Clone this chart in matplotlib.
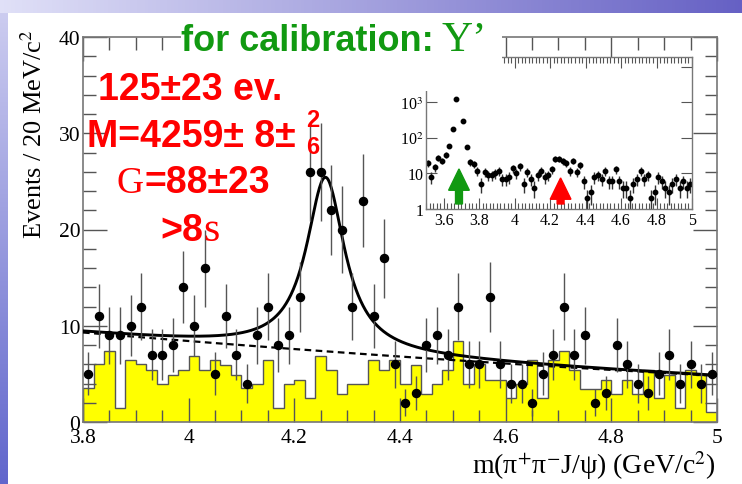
import matplotlib.pyplot as plt, numpy as np
from matplotlib.patches import Polygon, Rectangle

plt.rcParams['font.family'] = ['Liberation Serif', 'DejaVu Serif']
plt.rcParams['mathtext.fontset'] = 'stix'

W, H = 742, 485

###data: 20 MeV bins from 3.8 to 5.0 GeV
edges = np.round(np.linspace(3.80, 5.00, 61), 2)
centers = 0.5 * (edges[:-1] + edges[1:])

events = [5, 11, 9, 9, 10, 12, 7, 7, 8, 14,
          10, 16, 5, 11, 7, 4, 9, 12, 8, 9,
          13, 26, 26, 22, 20, 12, 23, 11, 17, 6,
          2, 3, 8, 9, 7, 12, 6, 6, 13, 6,
          4, 4, 2, 5, 7, 12, 7, 9, 2, 3,
          8, 6, 4, 3, 5, 7, 4, 6, 4, 5]

# scaled J/psi mass sidebands
sideband = [3.5, 6.0, 7.4, 1.5, 6.4, 6.0, 5.4, 3.9, 4.9, 5.4,
            6.9, 5.4, 6.4, 5.9, 4.9, 3.5, 3.9, 6.4, 1.5, 3.9,
            4.4, 2.5, 6.9, 5.4, 2.9, 3.9, 3.9, 6.4, 5.4, 6.4,
            3.9, 5.9, 2.9, 3.9, 5.4, 8.4, 3.9, 6.0, 4.4, 4.4,
            2.5, 3.9, 6.4, 2.5, 6.4, 7.4, 5.4, 3.4, 3.4, 4.4,
            2.9, 4.4, 2.9, 5.4, 2.5, 4.9, 1.5, 5.4, 4.9, 1.0]

# wide range spectrum below 3.8 GeV (psi(2S) peak)
low_edges = np.round(np.linspace(3.50, 3.80, 16), 2)
low_events = [20, 8, 15, 27, 23, 33, 58, 175, 1240, 10000, 300, 56, 21, 18, 12]

# fit result: BW signal + quadratic background
n_sig, m_fit, g_fit = 125, 4.259, 0.088
bg_coef = [9.3, -4.58, 0.69]
m_psi2s = 3.686

def background(x):
    t = x - 3.8
    return bg_coef[0] + bg_coef[1]*t + bg_coef[2]*t**2

def signal(x):
    hw = g_fit/2
    return n_sig*0.02/np.pi * hw/((x - m_fit)**2 + hw**2)

def px(x, y):
    return x/W, 1 - y/H

fig = plt.figure(figsize=(W/100, H/100), dpi=100)

##slide background
bg = fig.add_axes([0, 0, 1, 1])
bg.axis('off')
top = np.linspace(0, 1, 200)
c0, c1 = np.array([0.88, 0.88, 0.97]), np.array([0.40, 0.38, 0.77])
band = c0[None, None, :]*(1-top)[None, :, None] + c1[None, None, :]*top[None, :, None]
bg.imshow(band, extent=[0, W, 14, 0], aspect='auto')
side = np.linspace(0, 1, 200)
d0, d1 = np.array([0.80, 0.80, 0.94]), np.array([0.38, 0.40, 0.80])
lband = d0[None, None, :]*(1-side)[:, None, None] + d1[None, None, :]*side[:, None, None]
bg.imshow(lband, extent=[0, 8, H, 14], aspect='auto')
bg.set_xlim(0, W); bg.set_ylim(H, 0)

##main plot
ax = fig.add_axes([83/W, 62/H, 634/W, 385/H])
ax.stairs(sideband, edges, fill=True, color='#ffff00', zorder=1)
ax.stairs(sideband, edges, color='#555555', lw=1, zorder=2)
ax.errorbar(centers, events, yerr=np.sqrt(events), fmt='o', color='black',
            ms=5.8, ecolor='#555555', elinewidth=1, capsize=0, zorder=4)
xf = np.linspace(3.8, 5.0, 800)
ax.plot(xf, background(xf) + signal(xf), color='black', lw=2.1, zorder=3)
ax.plot(xf, background(xf), color='black', lw=1.6, dashes=(3, 2), zorder=3)

ax.set_xlim(3.8, 5.0)
ax.set_ylim(0, 40)
ax.set_xticks([3.8, 4.0, 4.2, 4.4, 4.6, 4.8, 5.0])
ax.set_xticklabels(['3.8', '4', '4.2', '4.4', '4.6', '4.8', '5'])
ax.set_xticks(np.arange(3.8, 5.001, 0.05), minor=True)
ax.set_yticks([0, 10, 20, 30, 40])
ax.set_yticks(np.arange(0, 40.1, 2), minor=True)
ax.tick_params(which='both', direction='in', top=True, right=True,
               color='#555555', width=1, labelsize=15.5)
ax.tick_params(which='major', length=17)
ax.tick_params(which='minor', length=9)
ax.tick_params(axis='x', pad=4)
ax.tick_params(axis='y', pad=2)
for s in ax.spines.values():
    s.set_color('#777777'); s.set_linewidth(1.2)

fig.text(*px(34, 134), 'Events / 20 MeV/c$^2$', rotation=90, fontsize=19,
         ha='center', va='center')
fig.text(*px(716, 474), 'm(\u03c0$^{+}$\u03c0$^{-}$J/\u03c8) (GeV/c$^{2}$)', fontsize=20,
         ha='right', va='baseline')

##inset: wide mass range, log scale
axin = fig.add_axes([426/W, (H-210)/H, 266/W, 152.3/H])
all_edges = np.concatenate([low_edges[:-1], edges])
all_events = np.array(low_events + events, dtype=float)
all_centers = 0.5*(all_edges[:-1] + all_edges[1:])
axin.errorbar(all_centers, all_events, yerr=np.sqrt(all_events), fmt='o', color='black',
              ms=3.2, ecolor='#333333', elinewidth=1, capsize=0)
axin.set_yscale('log')
axin.set_xlim(3.5, 5.0)
axin.set_ylim(1, 1.9e4)
axin.set_xticks([3.6, 3.8, 4.0, 4.2, 4.4, 4.6, 4.8, 5.0])
axin.set_xticklabels(['3.6', '3.8', '4', '4.2', '4.4', '4.6', '4.8', '5'])
axin.set_xticks(np.arange(3.5, 5.001, 0.02), minor=True)
axin.set_yticks([1, 10, 100, 1000, 10000])
axin.set_yticklabels(['1', '10', '10$^2$', '10$^3$', '10$^4$'])
axin.tick_params(which='both', direction='in', top=True, right=True,
                 color='#555555', width=0.8, labelsize=11.5, pad=2)
axin.tick_params(which='major', length=8)
axin.tick_params(which='minor', length=4)
for s in axin.spines.values():
    s.set_color('#777777'); s.set_linewidth(1)

def arrow(axx, xpos, tip, colour):
    xc = (xpos - 3.5)/1.5
    hw, sw, hl, base = 0.039, 0.013, 0.14, 0.033
    pts = [(xc - sw, base), (xc - sw, tip - hl), (xc - hw, tip - hl), (xc, tip),
           (xc + hw, tip - hl), (xc + sw, tip - hl), (xc + sw, base)]
    axx.add_patch(Polygon(pts, closed=True, color=colour, transform=axx.transAxes, zorder=5))

arrow(axin, m_psi2s, 0.263, '#119911')
arrow(axin, m_fit, 0.204, '#ff0000')

##labels
fig.patches.append(Rectangle((181/W, 1 - 92/H), 321/W, 78/H, transform=fig.transFigure,
                             facecolor='white', edgecolor='none', zorder=10))
fig.text(*px(181, 51), 'for calibration: ', fontsize=26, family='Liberation Sans',
         weight='bold', color='#119911', ha='left', va='baseline', zorder=11)
fig.text(*px(441, 51), 'Y\u2019', fontsize=31, family='Liberation Serif',
         color='#119911', ha='left', va='baseline', zorder=11)

red = '#ff0000'
sans = dict(family='Liberation Sans', weight='bold', color=red, va='baseline', zorder=11)
fig.text(*px(98, 100), '125\u00b123 ev.', fontsize=27, ha='left', **sans)
fig.text(*px(87, 147), 'M=4259\u00b1 8\u00b1', fontsize=27, ha='left', **sans)
fig.text(*px(313, 126.7), '2', fontsize=17, ha='center', **sans)
fig.text(*px(313, 154), '6', fontsize=17, ha='center', **sans)
fig.text(*px(117, 193), 'G', fontsize=27, family='Liberation Serif', color=red,
         ha='left', va='baseline', zorder=11)
fig.text(*px(144, 193), '=88\u00b123', fontsize=27, ha='left', **sans)
fig.text(*px(160, 241), '>8', fontsize=27, ha='left', **sans)
fig.text(*px(203, 241), 's', fontsize=30, family='Liberation Serif', color=red,
         ha='left', va='baseline', zorder=11)

fig.savefig('out.png', dpi=100)
